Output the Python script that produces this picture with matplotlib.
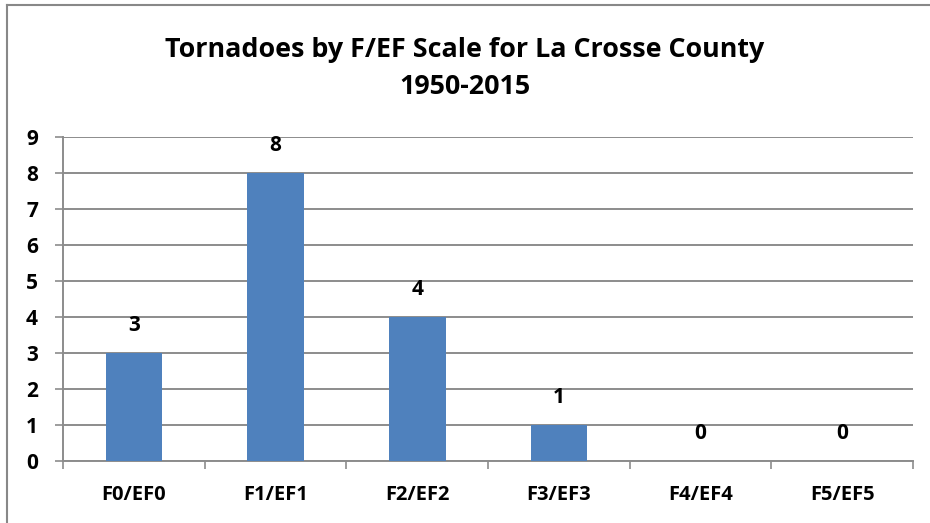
#!/usr/bin/env python3

import matplotlib.pyplot as plt
from matplotlib.lines import Line2D

# data
CATEGORIES = ["F0/EF0", "F1/EF1", "F2/EF2", "F3/EF3", "F4/EF4", "F5/EF5"]
COUNTS = [3, 8, 4, 1, 0, 0]
Y_TICKS = list(range(0, 10))

TITLE = "Tornadoes by F/EF Scale for La Crosse County\n1950-2015"
BAR_COLOR = "#4F81BD"
GRID_COLOR = "#8C8C8C"
FONT = ["Open Sans", "DejaVu Sans"]


def main():
    plt.rcParams["font.family"] = FONT
    fig = plt.figure(figsize=(9.3, 5.23), dpi=100)
    ax = fig.add_axes([63 / 930, 1 - 461 / 523, 850 / 930, 324 / 523])

    x = list(range(len(CATEGORIES)))
    ax.bar(x, COUNTS, width=0.4, color=BAR_COLOR, zorder=3)

    for xi, val in zip(x, COUNTS):
        ax.annotate(str(val), (xi, val), xytext=(0, 20), textcoords="offset points",
                    ha="center", va="center", fontsize=15, fontweight="bold")

    ax.set_xlim(-0.5, len(CATEGORIES) - 0.5)
    ax.set_ylim(0, 9)
    ax.set_yticks(Y_TICKS)
    ax.set_yticklabels([str(v) for v in Y_TICKS], fontsize=15, fontweight="bold")
    ax.yaxis.grid(True, color=GRID_COLOR, linewidth=1.4, zorder=0)
    ax.tick_params(axis="y", length=6, width=1.2, color=GRID_COLOR, pad=12)

    # categories labelled at centre, ticks at boundaries
    ax.set_xticks(x)
    ax.set_xticklabels(CATEGORIES, fontsize=14.5, fontweight="bold")
    ax.tick_params(axis="x", length=0, pad=17)
    ax.set_xticks([i - 0.5 for i in range(len(CATEGORIES) + 1)], minor=True)
    ax.tick_params(axis="x", which="minor", length=6, width=1.2, color=GRID_COLOR)

    for side in ["top", "right"]:
        ax.spines[side].set_visible(False)
    for side in ["left", "bottom"]:
        ax.spines[side].set_color(GRID_COLOR)
        ax.spines[side].set_linewidth(1.4)

    fig.text(0.5, 1 - 69 / 523, TITLE, ha="center", va="center",
             fontsize=19.4, fontweight="bold", linespacing=1.55)

    # chart-area border (right and bottom edges fall outside the image)
    fig.add_artist(Line2D([7 / 930, 1], [1 - 5 / 523, 1 - 5 / 523], color="#888888", linewidth=1.5))
    fig.add_artist(Line2D([7 / 930, 7 / 930], [0, 1 - 5 / 523], color="#888888", linewidth=1.5))

    fig.savefig("out.png", dpi=100)
    plt.close(fig)


if __name__ == "__main__":
    main()
